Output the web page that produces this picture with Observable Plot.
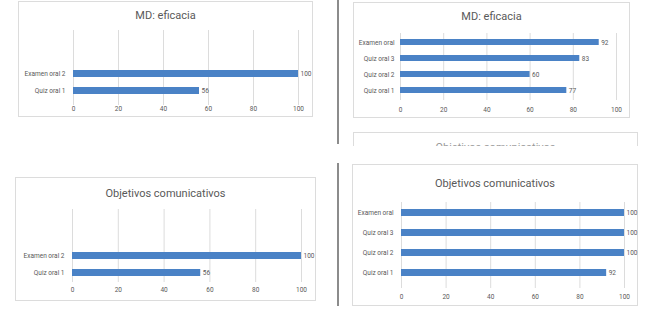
<!DOCTYPE html>
<html>
<head>
<meta charset="utf-8">
<script src="https://cdn.jsdelivr.net/npm/d3@7"></script>
<script src="https://cdn.jsdelivr.net/npm/@observablehq/plot@0.6"></script>
<style>
  html, body { margin: 0; padding: 0; background: #fff; }
  #root { position: relative; width: 650px; height: 311px; overflow: hidden; background: #fff;
          font-family: "Liberation Sans Narrow", "Roboto", "Liberation Sans", sans-serif; }
  .frame { position: absolute; border: 1px solid #dcdcdc; box-sizing: border-box; background: #fff; }
  .title { position: absolute; transform: translate(-50%, -50%); white-space: nowrap; color: #595959; font-size: 11px; }
  .vline { position: absolute; width: 2px; background: #8c8c8c; }
  svg { position: absolute; }
</style>
</head>
<body>
<div id="root"></div>
<script>
// ---- data ----
const titleMD = "MD: eficacia";
const titleObj = "Objetivos comunicativos";

const mdLeftCats = ["Examen oral 2", "Quiz oral 1"];
const mdLeftVals = [100, 56];

const mdRightCats = ["Examen oral", "Quiz oral 3", "Quiz oral 2", "Quiz oral 1"];
const mdRightVals = [92, 83, 60, 77];

const objLeftCats = ["Examen oral 2", "Quiz oral 1"];
const objLeftVals = [100, 56];

const objRightCats = ["Examen oral", "Quiz oral 3", "Quiz oral 2", "Quiz oral 1"];
const objRightVals = [100, 100, 100, 92];

const xTicks = [0, 20, 40, 60, 80, 100];

// ---- layout ----
const root = document.getElementById("root");
const barColor = "#4a82c6";
const gridColor = "#dcdcdc";
const textColor = "#595959";

function addDiv(cls, style, text) {
  const d = document.createElement("div");
  d.className = cls;
  Object.assign(d.style, style);
  if (text) d.textContent = text;
  root.appendChild(d);
  return d;
}

// decorative vertical separator lines
addDiv("vline", {left: "337px", top: "0px", height: "144px"});
addDiv("vline", {left: "337px", top: "163px", height: "143px"});

// partially visible cut-off chart frame
const cut = addDiv("frame", {left: "353px", top: "132px", width: "285px", height: "14px", overflow: "hidden", borderBottom: "none"});
const cutT = document.createElement("div");
cutT.textContent = titleObj;
Object.assign(cutT.style, {position: "absolute", left: "50%", top: "8px", transform: "translateX(-50%)", fontSize: "11px", color: "#9a9a9a", whiteSpace: "nowrap"});
cut.appendChild(cutT);

const panels = [
  {cats: mdLeftCats, vals: mdLeftVals, title: titleMD, frame: [18, 1, 313, 117], titleY: 15,
   x0: 73, x100: 298, gridTop: 30, gridBottom: 105, bandTop: 70, bandBottom: 94, pad: 0.59, tickPad: 1, catPad: 8},
  {cats: mdRightCats, vals: mdRightVals, title: titleMD, frame: [353, 2, 630, 118], titleY: 16,
   x0: 400, x100: 616, gridTop: 33, gridBottom: 100, bandTop: 37.75, bandBottom: 94.25, pad: 0.61, tickPad: 7, catPad: 6},
  {cats: objLeftCats, vals: objLeftVals, title: titleObj, frame: [15, 177, 316, 301], titleY: 193,
   x0: 72, x100: 301, gridTop: 209, gridBottom: 282, bandTop: 251, bandBottom: 276, pad: 0.61, tickPad: 4.5, catPad: 8},
  {cats: objRightCats, vals: objRightVals, title: titleObj, frame: [352, 164, 638, 306], titleY: 183,
   x0: 401, x100: 624, gridTop: 202, gridBottom: 288, bandTop: 208.25, bandBottom: 277.75, pad: 0.64, tickPad: 6, catPad: 8}
];

for (const p of panels) {
  const [fl, ft, fr, fb] = p.frame;
  addDiv("frame", {left: fl + "px", top: ft + "px", width: (fr - fl) + "px", height: (fb - ft) + "px"});
  addDiv("title", {left: ((fl + fr) / 2) + "px", top: p.titleY + "px"}, p.title);

  const data = p.cats.map((c, i) => ({c, v: p.vals[i]}));
  const svgTop = p.gridTop - 2;
  const svgBottom = p.gridBottom + 14;
  const chart = Plot.plot({
    width: fr - fl,
    height: svgBottom - svgTop,
    marginLeft: p.x0 - fl,
    marginRight: fr - p.x100,
    marginTop: 2,
    marginBottom: 14,
    style: {fontFamily: '"Liberation Sans Narrow", "Roboto", "Liberation Sans", sans-serif', fontSize: "6.5px", color: textColor, background: "transparent", overflow: "visible"},
    x: {domain: [0, 100]},
    y: {domain: p.cats, range: [p.bandTop - svgTop, p.bandBottom - svgTop], paddingInner: p.pad, paddingOuter: 0},
    marks: [
      Plot.ruleX(xTicks, {stroke: gridColor, strokeWidth: 1}),
      Plot.barX(data, {x: "v", y: "c", fill: barColor}),
      Plot.text(data, {x: "v", y: "c", text: d => String(d.v), dx: 2, textAnchor: "start", fill: textColor, fontSize: 6.5}),
      Plot.axisX({ticks: xTicks, tickSize: 0, tickPadding: p.tickPad, label: null, tickFormat: d => String(d), fill: textColor}),
      Plot.axisY({tickSize: 0, tickPadding: p.catPad, label: null, fill: textColor})
    ]
  });
  chart.style.left = fl + "px";
  chart.style.top = svgTop + "px";
  root.appendChild(chart);
}
</script>
</body>
</html>
